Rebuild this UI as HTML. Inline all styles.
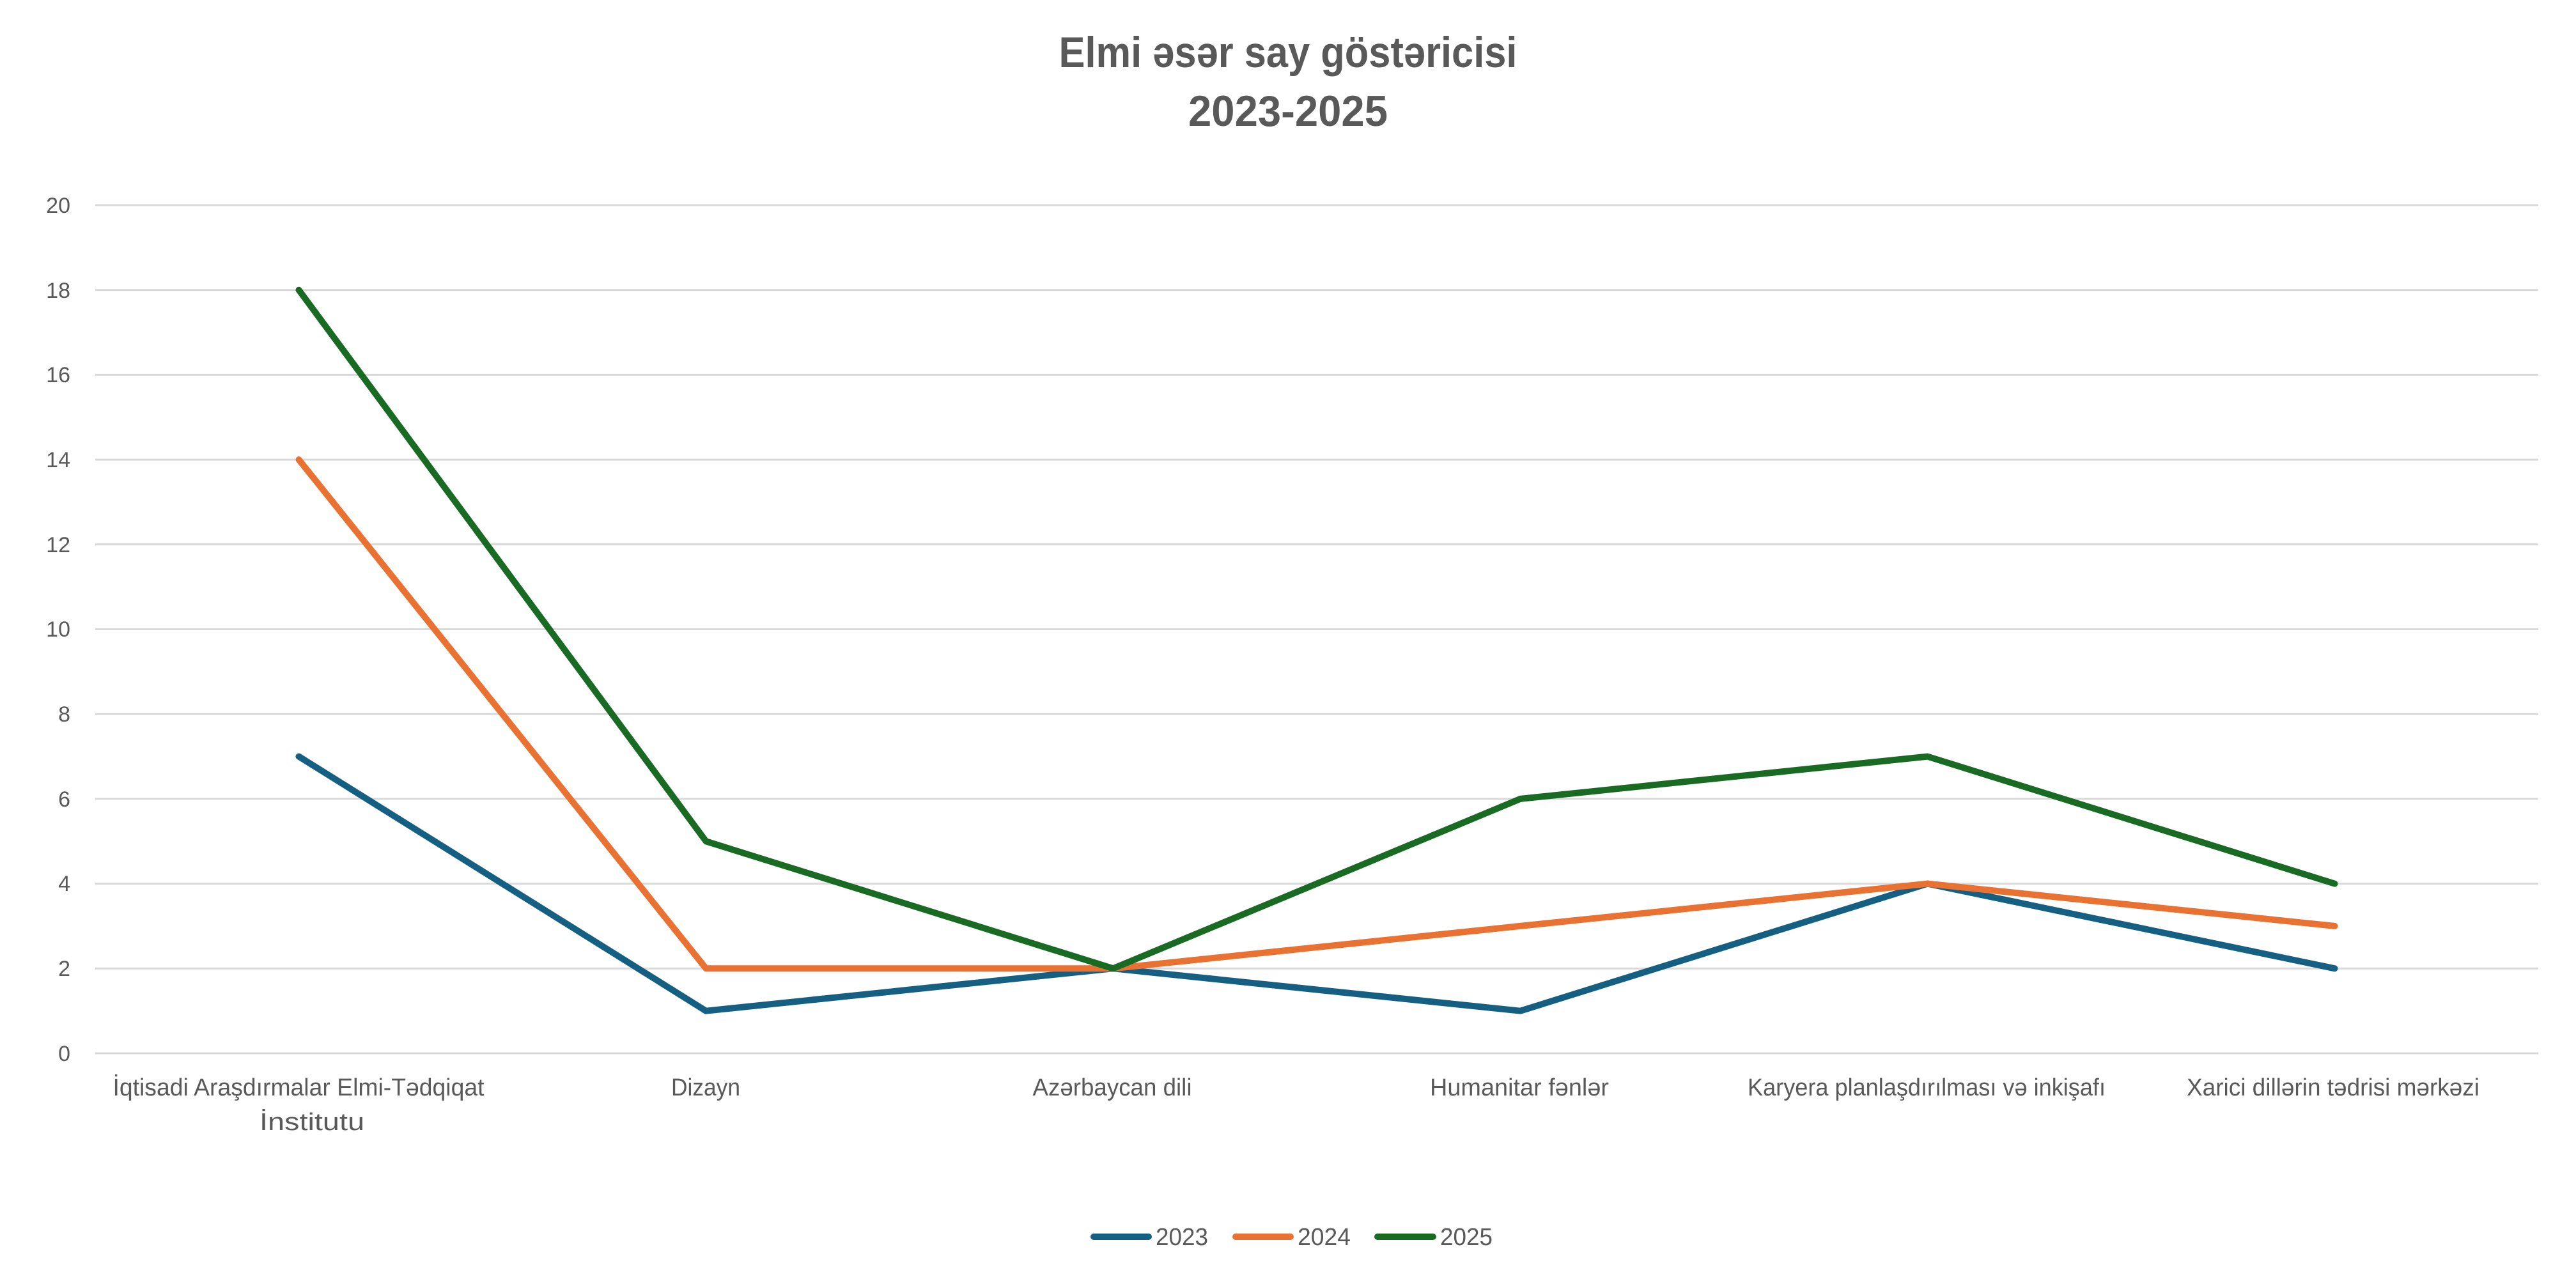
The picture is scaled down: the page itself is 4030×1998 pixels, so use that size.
<!DOCTYPE html>
<html><head><meta charset="utf-8"><style>html,body{margin:0;padding:0;background:#fff}svg{display:block}</style></head>
<body>
<svg width="4030" height="1998" viewBox="0 0 4030 1998" xmlns="http://www.w3.org/2000/svg" font-family="'Liberation Sans Narrow','Liberation Sans',sans-serif" fill="#595959">
<rect width="4030" height="1998" fill="#fff"/>
<text x="2015" y="105" font-size="68" font-weight="bold" text-anchor="middle" textLength="717" lengthAdjust="spacingAndGlyphs">Elmi əsər say göstəricisi</text>
<text x="2015" y="197" font-size="68" font-weight="bold" text-anchor="middle" textLength="312" lengthAdjust="spacingAndGlyphs">2023-2025</text>
<g stroke="#d9d9d9" stroke-width="3">
<line x1="149" x2="3971" y1="321" y2="321"/><line x1="149" x2="3971" y1="453.7" y2="453.7"/><line x1="149" x2="3971" y1="586.4" y2="586.4"/><line x1="149" x2="3971" y1="719.1" y2="719.1"/><line x1="149" x2="3971" y1="851.8" y2="851.8"/><line x1="149" x2="3971" y1="984.5" y2="984.5"/><line x1="149" x2="3971" y1="1117.2" y2="1117.2"/><line x1="149" x2="3971" y1="1249.9" y2="1249.9"/><line x1="149" x2="3971" y1="1382.6" y2="1382.6"/><line x1="149" x2="3971" y1="1515.3" y2="1515.3"/><line x1="149" x2="3971" y1="1648" y2="1648"/>
</g>
<g font-size="34" text-anchor="end">
<text x="110" y="333">20</text><text x="110" y="466">18</text><text x="110" y="598">16</text><text x="110" y="731">14</text><text x="110" y="864">12</text><text x="110" y="996">10</text><text x="110" y="1129">8</text><text x="110" y="1262">6</text><text x="110" y="1394">4</text><text x="110" y="1527">2</text><text x="110" y="1660">0</text>
</g>
<g font-size="38" text-anchor="middle">
<text x="467" y="1714" textLength="581" lengthAdjust="spacingAndGlyphs">İqtisadi Araşdırmalar Elmi-Tədqiqat</text>
<text x="488" y="1768" textLength="164" lengthAdjust="spacingAndGlyphs">İnstitutu</text>
<text x="1104" y="1714" textLength="108" lengthAdjust="spacingAndGlyphs">Dizayn</text>
<text x="1740" y="1714" textLength="249" lengthAdjust="spacingAndGlyphs">Azərbaycan dili</text>
<text x="2377" y="1714" textLength="280" lengthAdjust="spacingAndGlyphs">Humanitar fənlər</text>
<text x="3014" y="1714" textLength="560" lengthAdjust="spacingAndGlyphs">Karyera planlaşdırılması və inkişafı</text>
<text x="3650" y="1714" textLength="458" lengthAdjust="spacingAndGlyphs">Xarici dillərin tədrisi mərkəzi</text>
</g>
<g fill="none" stroke-width="10" stroke-linecap="round" stroke-linejoin="round">
<polyline stroke="#156082" points="467.5,1183.6 1104.5,1581.7 1741.5,1515.3 2378.5,1581.7 3015.5,1382.6 3652.5,1515.3"/>
<polyline stroke="#E97132" points="467.5,719.1 1104.5,1515.3 1741.5,1515.3 2378.5,1448.9 3015.5,1382.6 3652.5,1448.9"/>
<polyline stroke="#196B24" points="467.5,453.7 1104.5,1316.3 1741.5,1515.3 2378.5,1249.9 3015.5,1183.6 3652.5,1382.6"/>
</g>
<g stroke-width="10" stroke-linecap="round">
<line x1="1711" x2="1797" y1="1935" y2="1935" stroke="#156082"/>
<line x1="1933" x2="2019" y1="1935" y2="1935" stroke="#E97132"/>
<line x1="2155" x2="2242" y1="1935" y2="1935" stroke="#196B24"/>
</g>
<g font-size="38">
<text x="1808" y="1948" textLength="82" lengthAdjust="spacingAndGlyphs">2023</text>
<text x="2030" y="1948" textLength="83" lengthAdjust="spacingAndGlyphs">2024</text>
<text x="2253" y="1948" textLength="82" lengthAdjust="spacingAndGlyphs">2025</text>
</g>
</svg>
</body></html>
